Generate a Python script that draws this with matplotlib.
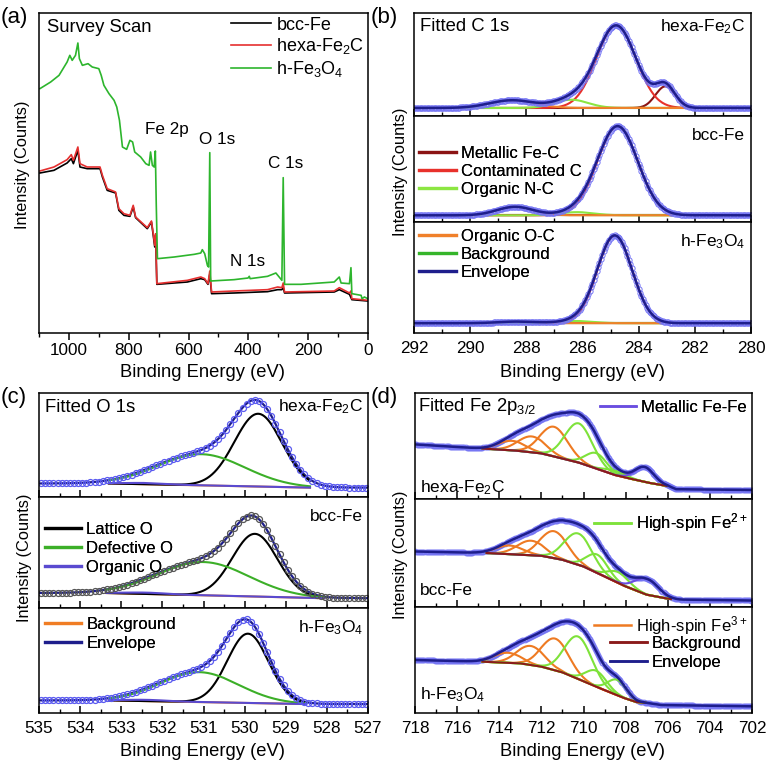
import numpy as np
import matplotlib.pyplot as plt
from matplotlib.ticker import MultipleLocator

plt.rcParams['font.family'] = ['Liberation Sans', 'DejaVu Sans']
plt.rcParams['mathtext.default'] = 'regular'
plt.rcParams['axes.linewidth'] = 1.1

# ---------------- (a) survey scan, vertices ----------------
survey_labels = ['bcc-Fe', 'hexa-Fe$_2$C', 'h-Fe$_3$O$_4$']
survey_colors = ['black', '#e53030', '#2db52d']

bcc_energy = [1097, 1050, 1006, 992, 985, 970, 963, 939, 896, 888, 872, 844, 833, 816, 796, 785,
              777, 738, 724, 718, 713, 710, 706, 604, 559, 546, 535, 529, 523, 448, 336, 302,
              288, 283.5, 279, 113, 96, 62, 54, 1]
bcc_counts = [482, 490, 512, 525, 510, 550, 500, 495, 495, 470, 430, 422, 370, 355, 352, 380,
              348, 315, 335, 295, 260, 295, 148, 155, 165, 162, 148, 178, 120, 122, 126, 132,
              132, 138, 122, 125, 132, 118, 102, 98]

hexa_energy = [1097, 1050, 1006, 992, 985, 970, 963, 939, 896, 888, 872, 844, 833, 816, 796, 785,
               777, 738, 724, 718, 713, 710, 706, 604, 559, 546, 535, 529, 523, 448, 336, 302,
               288, 283.5, 279, 113, 96, 62, 57, 54, 1]
hexa_counts = [488, 500, 522, 537, 520, 560, 510, 500, 500, 475, 435, 425, 375, 360, 355, 385,
               350, 318, 338, 300, 265, 300, 150, 160, 170, 165, 150, 188, 125, 128, 132, 140,
               138, 152, 125, 128, 138, 122, 128, 105, 100]

oxide_energy = [1097, 1061, 1033, 1006, 997, 989, 978, 970, 965, 955, 936, 922, 900, 892, 883, 866,
                849, 840, 831, 821, 807, 796, 787, 780, 760, 743, 732, 727, 721, 715, 711, 708,
                704, 648, 581, 559, 554, 546, 537, 533, 529, 526, 448, 401, 397, 394, 336, 308,
                297, 288, 283.5, 279, 224, 113, 96, 90, 62, 57, 54, 23, 20, 12, 1]
oxide_counts = [735, 755, 775, 815, 835, 820, 835, 872, 825, 805, 810, 800, 795, 775, 745, 720,
                700, 680, 640, 560, 553, 580, 575, 545, 530, 510, 505, 545, 505, 500, 548, 390,
                225, 230, 238, 242, 252, 240, 205, 200, 543, 158, 162, 167, 172, 165, 172, 182,
                170, 160, 468, 148, 148, 155, 170, 152, 150, 198, 120, 115, 105, 110, 105]

survey_notes = ['Fe 2p', 'O 1s', 'N 1s', 'C 1s']
survey_note_pos = [(671, 612), (503, 582), (403, 217), (275, 512)]

# ---------------- (b) C 1s fits: (centre eV, height, sigma) ----------------
samples = ['hexa-Fe$_2$C', 'bcc-Fe', 'h-Fe$_3$O$_4$']
c1s_fe_c = [(283.05, 0.21, 0.35), (283.1, 0.0, 0.35), (283.1, 0.0, 0.35)]
c1s_contaminated = [(284.8, 0.80, 0.70), (284.75, 0.84, 0.72), (284.85, 0.79, 0.62)]
c1s_n_c = [(286.4, 0.08, 0.6), (286.2, 0.03, 0.6), (286.2, 0.02, 0.6)]
c1s_o_c = [(288.5, 0.075, 0.8), (288.4, 0.08, 0.65), (288.3, 0.015, 0.7)]
c1s_bg_level = [0.078, 0.063, 0.088]
c1s_bg_span = [(290.5, 282.2), (290.7, 282.8), (290.1, 283.2)]

# ---------------- (c) O 1s fits ----------------
o1s_lattice = [(529.67, 0.70, 0.58), (529.75, 0.565, 0.55), (529.92, 0.66, 0.50)]
o1s_defective = [(531.05, 0.30, 1.05), (531.0, 0.30, 1.10), (531.1, 0.285, 0.95)]
o1s_organic = [(532.4, 0.012, 0.5), (532.4, 0.012, 0.5), (532.4, 0.012, 0.5)]
o1s_bg_high = [0.13, 0.135, 0.12]
o1s_bg_low = [0.09, 0.088, 0.085]
o1s_bg_span = [(533.3, 528.4), (533.36, 528.05), (533.3, 528.5)]
o1s_point_colors = ['#5a5af0', '#555555', '#5a5af0']

# ---------------- (d) Fe 2p3/2 fits ----------------
fe_fe3 = [[(713.4, 0.09, 0.65), (712.45, 0.15, 0.65), (711.4, 0.28, 0.65)],
          [(713.5, 0.08, 0.65), (712.5, 0.135, 0.65), (711.4, 0.25, 0.65)],
          [(713.6, 0.095, 0.65), (712.5, 0.18, 0.65), (711.35, 0.30, 0.65)]]
fe_fe2 = [[(710.23, 0.37, 0.65), (709.4, 0.145, 0.5), (708.5, 0.04, 0.5)],
          [(710.25, 0.29, 0.65), (709.35, 0.17, 0.5), (708.35, 0.10, 0.5)],
          [(710.25, 0.40, 0.65), (709.4, 0.15, 0.5), (708.4, 0.145, 0.45)]]
fe_metal = [(707.1, 0.14, 0.45), (707.0, 0.145, 0.55), (707.0, 0.0, 0.5)]
fe_bg_energy = [[718, 714.8, 713.1, 712, 711, 710.2, 709.4, 708.5, 707.5, 706.75, 706.0, 705.6, 702],
                [718, 714.6, 712, 711, 710, 709, 708, 707, 706, 705.5, 702],
                [718, 714.8, 713, 712, 711, 710, 709, 708, 707.5, 707, 706.3, 702]]
fe_bg_counts = [[0.515, 0.476, 0.455, 0.43, 0.382, 0.342, 0.288, 0.226, 0.179, 0.147, 0.122, 0.092, 0.085],
                [0.514, 0.50, 0.474, 0.437, 0.375, 0.283, 0.19, 0.114, 0.077, 0.068, 0.06],
                [0.50, 0.484, 0.468, 0.437, 0.383, 0.30, 0.215, 0.136, 0.104, 0.095, 0.075, 0.063]]
fe_bg_span = [(714.8, 706.0), (714.6, 705.8), (714.8, 707.0)]

W, H = 769, 767
fig = plt.figure(figsize=(W / 100, H / 100), dpi=100)

ENV = '#1e1e8c'
PTS = '#7676f4'
TICK_FS = 12.3


def px_axes(l, t, r, b):
    return fig.add_axes([l / W, 1 - b / H, (r - l) / W, (b - t) / H])


def gauss(e, peak):
    c, h, w = peak
    return h * np.exp(-0.5 * ((e - c) / w) ** 2)


def style_stack(ax, lo, hi, major, minor, bottom):
    ax.set_xlim(hi, lo)
    ax.set_ylim(0, 1)
    ax.set_yticks([])
    ax.xaxis.set_major_locator(MultipleLocator(major))
    ax.xaxis.set_minor_locator(MultipleLocator(minor))
    ax.tick_params(axis='x', which='major', direction='in', length=5, width=1.1,
                   labelsize=TICK_FS, pad=6, labelbottom=bottom)
    ax.tick_params(axis='x', which='minor', direction='in', length=3, width=1.0)


def stack(tops):
    return [px_axes(l, t, r, b) for (l, t, r, b) in tops]


leg_kw = dict(frameon=False, fontsize=12, handlelength=2.2, handletextpad=0.3,
              labelspacing=0.16, borderaxespad=0, borderpad=0.1)


def legend(ax, handles, labels, loc, anchor, spacing=0.16, lw=2.3):
    kw = dict(leg_kw, labelspacing=spacing)
    leg = ax.legend(handles, labels, loc=loc, bbox_to_anchor=anchor, **kw)
    for ln in leg.get_lines():
        ln.set_linewidth(lw)
    ax.add_artist(leg)
    return leg


# ---------------- panel (a) ----------------
ax = px_axes(39, 13, 368, 333)
for e, c, lab, col in zip([bcc_energy, hexa_energy, oxide_energy],
                          [bcc_counts, hexa_counts, oxide_counts], survey_labels, survey_colors):
    ax.plot(e, c, color=col, lw=1.2, label=lab)
for txt, (x, y) in zip(survey_notes, survey_note_pos):
    ax.text(x, y, txt, fontsize=12.3, ha='center', va='center')
ax.set_xlim(1100, 0)
ax.set_ylim(2, 962)
ax.set_yticks([])
ax.xaxis.set_major_locator(MultipleLocator(200))
ax.xaxis.set_minor_locator(MultipleLocator(100))
ax.tick_params(axis='x', which='major', direction='out', length=5, width=1.1, labelsize=TICK_FS, pad=2)
ax.tick_params(axis='x', which='minor', direction='out', length=3, width=1.0)
ax.text(0.025, 0.955, 'Survey Scan', transform=ax.transAxes, fontsize=13.3, va='center')
ax.legend(loc='upper right', bbox_to_anchor=(1.0, 1.0), frameon=False, fontsize=13,
          handlelength=2.2, handletextpad=0.3, labelspacing=0.15, borderaxespad=0.1, borderpad=0.1)

# ---------------- panel (b) ----------------
axes_b = stack([(414, 13, 751, 116), (414, 116, 751, 222), (414, 222, 751, 333)])
eb = np.arange(280, 292.001, 0.05)
hb = {}
for i, ax in enumerate(axes_b):
    lo_s, hi_s = c1s_bg_span[i][1], c1s_bg_span[i][0]
    seg = eb[(eb >= lo_s) & (eb <= hi_s)]
    bg = c1s_bg_level[i]
    comps = [('Metallic Fe-C', c1s_fe_c[i], '#8b1414'),
             ('Contaminated C', c1s_contaminated[i], '#e8312b'),
             ('Organic N-C', c1s_n_c[i], '#8ce641'),
             ('Organic O-C', c1s_o_c[i], '#f0802a')]
    hb['Background'], = ax.plot(seg, np.full_like(seg, bg), color='#35b52a', lw=1.5)
    for name, pk, col in comps:
        hb[name], = ax.plot(seg, bg + gauss(seg, pk), color=col, lw=1.5)
    env = bg + sum(gauss(eb, pk) for _, pk, _ in comps)
    ax.plot(eb, env, 'o', ms=3.8, mfc='none', mec=PTS, mew=0.7)
    hb['Envelope'], = ax.plot(eb, env, color=ENV, lw=1.8)
    style_stack(ax, 280, 292, 2, 1, i == 2)
    ax.text(0.982, 0.87 if i == 0 else 0.82, samples[i], transform=ax.transAxes,
            fontsize=12.5, ha='right', va='center')
axes_b[0].text(0.018, 0.87, 'Fitted C 1s', transform=axes_b[0].transAxes, fontsize=13.3, va='center')
names = ['Metallic Fe-C', 'Contaminated C', 'Organic N-C']
legend(axes_b[1], [hb[k] for k in names], names, 'upper left', (0.01, 0.73))
names = ['Organic O-C', 'Background', 'Envelope']
legend(axes_b[2], [hb[k] for k in names], names, 'upper left', (0.01, 0.95))

# ---------------- panel (c) ----------------
axes_c = stack([(39, 393, 368, 497), (39, 497, 368, 608), (39, 608, 368, 713)])
ec = np.arange(527, 535.001, 0.01)
ep = np.arange(527.05, 535.0, 0.1)
hc = {}
for i, ax in enumerate(axes_c):
    hi_s, lo_s = o1s_bg_span[i]

    def bgf(e):
        return np.interp(e, [lo_s, hi_s], [o1s_bg_low[i], o1s_bg_high[i]])

    comps = [('Lattice O', o1s_lattice[i], 'black'),
             ('Defective O', o1s_defective[i], '#3caf28'),
             ('Organic O', o1s_organic[i], '#5a4ad0')]
    seg = ec[(ec >= lo_s) & (ec <= hi_s)]
    env = bgf(ec) + sum(gauss(ec, pk) for _, pk, _ in comps)
    hc['Envelope'], = ax.plot(ec, env, color=ENV, lw=1.6)
    hc['Background'], = ax.plot(seg, bgf(seg), color='#f07d24', lw=1.5)
    for name, pk, col in comps:
        hc[name], = ax.plot(seg, bgf(seg) + gauss(seg, pk), color=col, lw=1.5)
    envp = bgf(ep) + sum(gauss(ep, pk) for _, pk, _ in comps)
    ax.plot(ep, envp, 'o', ms=4.3, mfc='none', mec=o1s_point_colors[i], mew=0.9)
    style_stack(ax, 527, 535, 1, 0.5, i == 2)
    ax.text(0.985, [0.865, 0.82, 0.81][i], samples[i], transform=ax.transAxes,
            fontsize=12.5, ha='right', va='center')
axes_c[0].text(0.018, 0.865, 'Fitted O 1s', transform=axes_c[0].transAxes, fontsize=13.3, va='center')
names = ['Lattice O', 'Defective O', 'Organic O']
legend(axes_c[1], [hc[k] for k in names], names, 'upper left', (0.012, 0.79), spacing=0.23)
names = ['Background', 'Envelope']
legend(axes_c[2], [hc[k] for k in names], names, 'upper left', (0.012, 0.93), spacing=0.23)

# ---------------- panel (d) ----------------
axes_d = stack([(415, 393, 752, 499), (415, 499, 752, 607), (415, 607, 752, 713)])
ed = np.arange(702, 718.001, 0.05)
hd = {}
for i, ax in enumerate(axes_d):
    hi_s, lo_s = fe_bg_span[i]
    bgk_e = fe_bg_energy[i][::-1]
    bgk_c = fe_bg_counts[i][::-1]

    def bgf(e):
        return np.interp(e, bgk_e, bgk_c)

    comps = ([('High-spin Fe$^{3+}$', pk, '#ee7a22') for pk in fe_fe3[i]] +
             [('High-spin Fe$^{2+}$', pk, '#7ee23a') for pk in fe_fe2[i]] +
             [('Metallic Fe-Fe', fe_metal[i], '#6a4ee0')])
    seg = ed[(ed >= lo_s) & (ed <= hi_s)]
    env = bgf(ed) + sum(gauss(ed, pk) for _, pk, _ in comps)
    ax.plot(ed, env, 'o', ms=3.4, mfc='none', mec=PTS, mew=0.7)
    for name, pk, col in comps:
        if pk[1] > 0:
            hd[name], = ax.plot(seg, bgf(seg) + gauss(seg, pk), color=col, lw=1.5)
    hd['Background'], = ax.plot(seg, bgf(seg), color='#8b1a1a', lw=1.5)
    hd['Envelope'], = ax.plot(ed, env, color=ENV, lw=1.8)
    style_stack(ax, 702, 718, 2, 1, i == 2)
    ax.text(0.015, [0.11, 0.15, 0.17][i], samples[i], transform=ax.transAxes,
            fontsize=12.5, ha='left', va='center')
axes_d[0].text(0.01, 0.87, 'Fitted Fe 2p$_{3/2}$', transform=axes_d[0].transAxes,
               fontsize=13.3, va='center')
legend(axes_d[0], [hd['Metallic Fe-Fe']], ['Metallic Fe-Fe'], 'upper right', (0.99, 0.95), lw=1.8)
legend(axes_d[1], [hd['High-spin Fe$^{2+}$']], ['High-spin Fe$^{2+}$'], 'upper right',
       (0.99, 0.9), lw=1.8)
legend(axes_d[2], [hd['High-spin Fe$^{3+}$']], ['High-spin Fe$^{3+}$'], 'upper right',
       (0.99, 0.95), lw=1.8)
names = ['Background', 'Envelope']
legend(axes_d[2], [hd[k] for k in names], names, 'upper left', (0.575, 0.74), spacing=0.2, lw=1.8)

# ---------------- shared labels ----------------
for x, y in [(203, 373), (582, 373), (203, 751), (583, 751)]:
    fig.text(x / W, 1 - y / H, 'Binding Energy (eV)', fontsize=13.2, ha='center', va='center')
for x, y in [(23, 165), (400, 172), (25, 558), (400, 555)]:
    fig.text(x / W, 1 - y / H, 'Intensity (Counts)', fontsize=11.8, ha='center', va='center',
             rotation=90)
for x, y, lab in [(1, 17, '(a)'), (371, 17, '(b)'), (1, 397, '(c)'), (371, 397, '(d)')]:
    fig.text(x / W, 1 - y / H, lab, fontsize=16, ha='left', va='center')

fig.savefig('out.png', dpi=100)
